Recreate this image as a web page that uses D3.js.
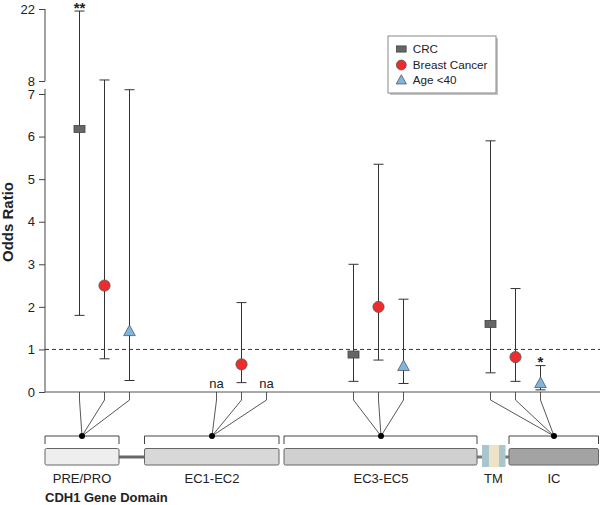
<!DOCTYPE html>
<html><head><meta charset="utf-8">
<script src="https://cdn.jsdelivr.net/npm/d3@7"></script>
<style>body{margin:0;background:#fff}svg{display:block;font-family:"Liberation Sans",Arial,sans-serif}</style>
</head><body><svg id="c" width="600" height="505"></svg>
<script>
const domains = ["PRE/PRO","EC1-EC2","EC3-EC5","IC"];
const seriesNames = ["CRC","Breast Cancer","Age <40"];
// odds ratio, lower CI, upper CI per domain (null = na)
const crcOR   = [6.18, null, 0.88, 1.60];
const crcLo   = [1.80, null, 0.25, 0.45];
const crcHi   = [21.6, null, 3.00, 5.90];
const brOR    = [2.50, 0.65, 2.00, 0.82];
const brLo    = [0.78, 0.22, 0.75, 0.25];
const brHi    = [8.20, 2.10, 5.35, 2.43];
const ageOR   = [1.43, null, 0.61, 0.21];
const ageLo   = [0.27, null, 0.20, 0.05];
const ageHi   = [7.10, null, 2.18, 0.62];
const sigMarks = [{d:"PRE/PRO", s:"CRC", t:"**"}, {d:"IC", s:"Age <40", t:"*"}];
const lowerTicks = [0,1,2,3,4,5,6,7];
const upperTicks = [8,22];
const geneDomains = ["PRE/PRO","EC1-EC2","EC3-EC5","TM","IC"];

const svg = d3.select("#c");
const axisX = 45, baseY = 392;
const yLow = d3.scaleLinear().domain([0,7]).range([392,94]);
const yUp = d3.scaleLinear().domain([8,22]).range([81,9]);
const brkTop = 7.12;
function Y(v){
  if (v <= brkTop) return yLow(v);
  if (v >= 8) return yUp(v);
  return yLow(brkTop) + (v-brkTop)/(8-brkTop)*(yUp(8)-yLow(brkTop));
}
const xGroup = d3.scaleBand().domain(domains).range([36, 584]);
const xSeries = d3.scaleBand().domain(seriesNames).range([-37.5, 37.5]);
const xOf = (d,s) => xGroup(d) + xGroup.bandwidth()/2 + xSeries(s) + xSeries.bandwidth()/2;

const series = [
  {name:"CRC", or:crcOR, lo:crcLo, hi:crcHi},
  {name:"Breast Cancer", or:brOR, lo:brLo, hi:brHi},
  {name:"Age <40", or:ageOR, lo:ageLo, hi:ageHi}
];

// y-axes (broken)
const fmt = d3.format("d");
const axLow = d3.axisLeft(yLow).tickValues(lowerTicks).tickFormat(fmt).tickSize(6).tickSizeOuter(0);
const gL = svg.append("g").attr("transform",`translate(${axisX},0)`).call(axLow);
gL.select(".domain").remove();
gL.append("line").attr("x1",0).attr("x2",0).attr("y1",yLow(brkTop)).attr("y2",baseY).attr("stroke","#444");
const axUp = d3.axisLeft(yUp).tickValues(upperTicks).tickFormat(fmt).tickSize(6).tickSizeOuter(0);
const gU = svg.append("g").attr("transform",`translate(${axisX},0)`).call(axUp);
gU.select(".domain").remove();
gU.append("line").attr("x1",0).attr("x2",0).attr("y1",yUp(22)).attr("y2",yUp(8)).attr("stroke","#444");
svg.selectAll(".tick line").attr("stroke","#444");
svg.selectAll(".tick text").attr("font-size",13).attr("fill","#222").attr("font-family","Liberation Sans, Arial, sans-serif").attr("x",-10);

svg.append("text").attr("transform","translate(13,222) rotate(-90)").attr("text-anchor","middle")
  .attr("font-size",15).attr("font-weight","bold").attr("fill","#222").text("Odds Ratio");

// x baseline and reference line
svg.append("line").attr("x1",axisX).attr("x2",600).attr("y1",baseY).attr("y2",baseY).attr("stroke","#555");
svg.append("line").attr("x1",axisX).attr("x2",600).attr("y1",Y(1)).attr("y2",Y(1))
  .attr("stroke","#333").attr("stroke-dasharray","4,3");

// error bars and markers
series.forEach(s=>{
  domains.forEach((d,i)=>{
    const x = xOf(d,s.name);
    if (s.or[i]==null){
      svg.append("text").attr("x",x).attr("y",388).attr("text-anchor","middle").attr("font-size",13).attr("fill","#222").text("na");
      return;
    }
    const g = svg.append("g").attr("stroke","#333").attr("stroke-width",1);
    g.append("line").attr("x1",x).attr("x2",x).attr("y1",Y(s.lo[i])).attr("y2",Y(s.hi[i]));
    [s.lo[i], s.hi[i]].forEach(v=>g.append("line").attr("x1",x-5).attr("x2",x+5).attr("y1",Y(v)).attr("y2",Y(v)));
    drawMarker(svg, s.name, x, Y(s.or[i]), 1);
  });
});
function drawMarker(sel, name, x, y, k){
  if (name==="CRC"){
    sel.append("rect").attr("x",x-5.5*k).attr("y",y-3.5*k).attr("width",11*k).attr("height",7*k).attr("fill","#666").attr("stroke","#444").attr("stroke-width",0.8);
  } else if (name==="Breast Cancer"){
    sel.append("circle").attr("cx",x).attr("cy",y).attr("r",5.6*k).attr("fill","#ee2c2c").attr("stroke","#555").attr("stroke-width",0.8);
  } else {
    sel.append("path").attr("d",`M${x},${y-6*k}L${x+5.8*k},${y+4.5*k}L${x-5.8*k},${y+4.5*k}Z`).attr("fill","#7fb6dc").attr("stroke","#556").attr("stroke-width",0.8);
  }
}
sigMarks.forEach(m=>{
  const i = domains.indexOf(m.d), s = series.find(q=>q.name===m.s);
  svg.append("text").attr("x",xOf(m.d,m.s)).attr("y",Y(s.hi[i])+1.5).attr("text-anchor","middle")
    .attr("font-size",15).attr("font-weight","bold").attr("fill","#222").text(m.t);
});

// legend
const lg = svg.append("g");
lg.append("rect").attr("x",390).attr("y",38).attr("width",108).attr("height",57).attr("fill","#c4c4c4");
lg.append("rect").attr("x",388).attr("y",36).attr("width",108).attr("height",57).attr("fill","#fff").attr("stroke","#888");
seriesNames.forEach((n,i)=>{
  const yy = [49,65,80][i];
  drawMarker(lg, n, 401.3, yy, 0.88);
  lg.append("text").attr("x",412.7).attr("y",yy+4.2).attr("font-size",11.7).attr("fill","#222").text(n);
});

// gene domain diagram
const dg = svg.append("g");
const dom = {
  "PRE/PRO": {x0:45, x1:119, fill:"#eeeeee", dot:82},
  "EC1-EC2": {x0:144.5, x1:279, fill:"#d8d8d8", dot:212},
  "EC3-EC5": {x0:284, x1:477, fill:"#d0d0d0", dot:381},
  "IC":      {x0:509, x1:598.5, fill:"#a3a3a3", dot:554}
};
const dotY = 436;
// connectors between boxes
dg.append("line").attr("x1",119).attr("x2",144.5).attr("y1",457).attr("y2",457).attr("stroke","#666").attr("stroke-width",3);
dg.append("line").attr("x1",477).attr("x2",509).attr("y1",457).attr("y2",457).attr("stroke","#777").attr("stroke-width",3);
domains.forEach(d=>{
  const g = dom[d];
  dg.append("path").attr("d",`M${g.x0},${dotY+8}V${dotY}H${g.x1}V${dotY+8}`).attr("fill","none").attr("stroke","#444");
  dg.append("rect").attr("x",g.x0).attr("y",448.5).attr("width",g.x1-g.x0).attr("height",16.5).attr("rx",1.5)
    .attr("fill",g.fill).attr("stroke","#666");
  seriesNames.forEach(s=>{
    const x = xOf(d,s);
    dg.append("path").attr("d",`M${x},${baseY}V${baseY+8}L${g.dot},${dotY}`).attr("fill","none").attr("stroke","#444").attr("stroke-width",0.9);
  });
  dg.append("circle").attr("cx",g.dot).attr("cy",dotY).attr("r",3).attr("fill","#000");
  dg.append("text").attr("x",g.dot).attr("y",483).attr("text-anchor","middle").attr("font-size",13).attr("fill","#222").text(d);
});
// TM box
dg.append("rect").attr("x",482).attr("y",445).attr("width",23.5).attr("height",22).attr("fill","#a9c6cf");
dg.append("rect").attr("x",489).attr("y",445).attr("width",10).attr("height",22).attr("fill","#efe2c6");
dg.append("text").attr("x",493.5).attr("y",483).attr("text-anchor","middle").attr("font-size",13).attr("fill","#222").text(geneDomains[3]);

svg.append("text").attr("x",45).attr("y",502).attr("font-size",13).attr("font-weight","bold").attr("fill","#222").text("CDH1 Gene Domain");
</script></body></html>
